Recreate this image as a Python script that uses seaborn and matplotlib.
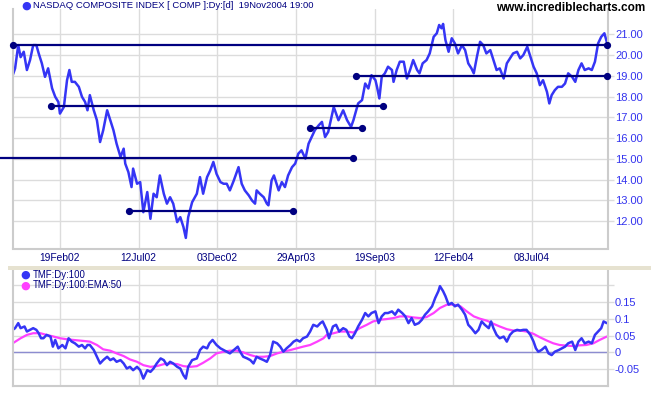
import matplotlib
matplotlib.use("Agg")
import matplotlib.pyplot as plt
from matplotlib.patches import Rectangle
import seaborn as sns

# ---------------- data (bar index = trading day from start) ----------------
price_bar = [0, 3, 7, 10, 14, 18, 22, 26, 30, 33, 37, 41, 45, 50, 54, 58, 60, 65, 69, 72,
             75, 79, 84, 88, 92, 95, 98, 103, 107, 111, 115, 120, 124, 128, 132, 137, 141, 143, 147, 151,
             153, 158, 162, 166, 171, 175, 179, 183, 187, 192, 196, 200, 204, 209, 213, 217, 220, 223, 228, 234,
             238, 242, 247, 251, 255, 259, 264, 268, 272, 276, 281, 287, 291, 295, 300, 304, 308, 310, 314, 319,
             323, 325, 329, 332, 338, 342, 346, 350, 355, 359, 363, 367, 372, 376, 380, 384, 389, 393, 397, 401,
             408, 414, 420, 425, 430, 433, 439, 444, 448, 452, 456, 461, 463, 466, 469, 473, 477, 482, 484, 488,
             492, 497, 501, 505, 509, 514, 517, 521, 526, 530, 535, 539, 542, 545, 547, 550, 554, 558, 562, 566,
             571, 575, 579, 583, 586, 590, 594, 598, 602, 607, 611, 615, 619, 624, 628, 632, 636, 641, 645, 649,
             654, 658, 662, 666, 670, 674, 679, 682, 685, 689, 693, 698, 702, 706, 711, 715, 719, 723, 727, 732,
             736, 740, 744, 748, 752, 755]
price_val = [19.03, 19.36, 20.48, 19.90, 20.16, 19.28, 19.76, 20.48, 20.48, 20.08, 19.60, 18.95, 19.36, 18.40, 17.99, 17.74, 17.18, 17.50, 18.79, 19.28,
             18.71, 18.71, 18.47, 17.99, 17.74, 17.34, 18.07, 17.34, 16.86, 15.81, 16.38, 17.34, 16.86, 16.38, 15.73, 15.09, 15.49, 14.77, 14.36, 13.64,
             14.53, 13.80, 13.88, 12.43, 13.40, 12.11, 13.32, 13.15, 14.20, 13.32, 12.84, 13.15, 12.84, 11.95, 12.19, 11.71, 11.19, 12.19, 12.91, 13.32,
             14.12, 13.32, 14.12, 14.44, 14.85, 14.28, 13.88, 13.80, 13.80, 13.48, 13.96, 14.60, 13.80, 13.48, 13.24, 13.00, 12.84, 13.48, 13.32, 13.15,
             12.84, 12.76, 13.96, 14.20, 13.48, 13.88, 13.64, 14.20, 14.60, 14.77, 15.25, 15.41, 15.01, 15.73, 16.05, 16.38, 16.62, 16.78, 16.05, 16.30,
             17.50, 16.86, 17.34, 16.86, 16.54, 16.86, 17.67, 17.83, 18.63, 18.39, 19.03, 18.79, 18.47, 17.91, 18.95, 19.12, 19.44, 19.28, 18.71, 19.28,
             19.68, 19.68, 18.87, 19.28, 19.76, 19.28, 19.12, 19.60, 19.76, 20.08, 20.88, 21.05, 21.45, 21.29, 21.50, 20.72, 20.16, 20.81, 20.56, 20.08,
             20.48, 20.24, 19.60, 19.36, 19.12, 19.92, 20.64, 20.48, 20.08, 20.24, 19.76, 19.28, 19.36, 18.87, 19.60, 19.84, 20.08, 20.16, 19.84, 20.00,
             20.40, 19.92, 19.44, 19.12, 18.55, 18.79, 18.23, 17.67, 18.07, 18.31, 18.47, 18.47, 18.63, 19.12, 18.95, 18.71, 19.28, 19.60, 19.28, 19.36,
             19.28, 19.68, 20.56, 20.88, 21.05, 20.64]

tmf_bar = [0, 3, 7, 10, 15, 18, 22, 26, 30, 33, 36, 39, 43, 48, 51, 54, 58, 63, 67, 71,
           75, 79, 84, 88, 92, 95, 98, 103, 107, 111, 115, 120, 124, 128, 132, 137, 141, 145, 149, 153,
           158, 162, 166, 171, 175, 179, 183, 188, 192, 196, 200, 204, 209, 213, 217, 220, 223, 228, 234, 238,
           242, 247, 250, 254, 259, 264, 268, 272, 276, 281, 286, 289, 293, 298, 302, 306, 310, 314, 319, 323,
           327, 331, 336, 340, 344, 348, 353, 357, 361, 365, 369, 374, 378, 382, 387, 391, 394, 399, 402, 407,
           411, 415, 420, 424, 428, 431, 435, 439, 444, 448, 452, 456, 461, 465, 469, 473, 477, 482, 486, 490,
           495, 499, 503, 507, 511, 516, 520, 524, 528, 533, 537, 541, 543, 547, 550, 554, 558, 562, 566, 571,
           575, 579, 583, 588, 592, 596, 600, 605, 608, 611, 615, 619, 624, 628, 632, 636, 641, 645, 649, 653,
           658, 662, 665, 668, 672, 677, 681, 685, 689, 694, 698, 702, 706, 711, 715, 719, 723, 727, 732, 736,
           740, 744, 748, 751, 755]
tmf_val = [0.067, 0.072, 0.087, 0.072, 0.077, 0.062, 0.067, 0.072, 0.067, 0.057, 0.042, 0.042, 0.052, 0.047, 0.017, 0.037, 0.012, 0.022, 0.012, 0.042,
           0.032, 0.027, 0.017, 0.022, 0.012, 0.022, 0.022, 0.007, -0.013, -0.033, -0.023, -0.013, -0.023, -0.018, -0.028, -0.023, -0.033, -0.048, -0.043, -0.053,
           -0.043, -0.053, -0.078, -0.053, -0.058, -0.048, -0.033, -0.018, -0.023, -0.038, -0.028, -0.033, -0.043, -0.048, -0.068, -0.078, -0.043, -0.023, -0.018, 0.007,
           0.017, 0.012, 0.027, 0.037, 0.022, 0.012, 0.007, 0.002, -0.003, 0.007, 0.017, 0.002, -0.013, -0.018, -0.023, -0.033, -0.013, -0.018, -0.023, -0.028,
           -0.008, 0.032, 0.027, 0.017, 0.002, 0.012, 0.022, 0.032, 0.037, 0.032, 0.042, 0.047, 0.062, 0.082, 0.077, 0.087, 0.092, 0.067, 0.042, 0.077,
           0.082, 0.062, 0.072, 0.067, 0.047, 0.042, 0.057, 0.077, 0.097, 0.117, 0.107, 0.117, 0.122, 0.087, 0.107, 0.117, 0.117, 0.122, 0.112, 0.127,
           0.117, 0.107, 0.087, 0.102, 0.082, 0.087, 0.097, 0.112, 0.122, 0.137, 0.162, 0.182, 0.197, 0.182, 0.167, 0.142, 0.147, 0.137, 0.142, 0.127,
           0.112, 0.082, 0.072, 0.057, 0.067, 0.092, 0.082, 0.072, 0.092, 0.072, 0.052, 0.042, 0.047, 0.032, 0.052, 0.062, 0.067, 0.065, 0.067, 0.067,
           0.052, 0.032, 0.012, 0.002, 0.007, 0.017, -0.003, -0.008, 0.002, 0.007, 0.012, 0.017, 0.027, 0.032, 0.007, 0.032, 0.042, 0.027, 0.032, 0.027,
           0.052, 0.062, 0.072, 0.092, 0.087]

ema_bar = [0, 10, 18, 26, 35, 43, 52, 60, 69, 77, 90, 98, 107, 115, 124, 132, 141, 149, 158, 166,
           175, 183, 192, 200, 209, 217, 226, 234, 242, 251, 259, 268, 276, 285, 293, 302, 310, 319, 327, 336,
           344, 353, 361, 369, 378, 387, 395, 399, 408, 416, 425, 433, 441, 450, 458, 467, 475, 484, 492, 501,
           509, 518, 526, 535, 543, 552, 560, 569, 577, 586, 594, 603, 611, 619, 628, 636, 645, 653, 662, 670,
           679, 687, 695, 704, 712, 721, 729, 738, 746, 755]
ema_val = [0.027, 0.042, 0.052, 0.057, 0.057, 0.052, 0.047, 0.042, 0.039, 0.037, 0.034, 0.032, 0.022, 0.009, 0.005, -0.003, -0.011, -0.021, -0.028, -0.038,
           -0.043, -0.041, -0.035, -0.033, -0.035, -0.041, -0.043, -0.041, -0.031, -0.018, -0.003, 0.002, 0.005, 0.005, 0.000, -0.008, -0.013, -0.013, -0.011, -0.003,
           0.002, 0.007, 0.012, 0.017, 0.022, 0.032, 0.042, 0.052, 0.057, 0.062, 0.062, 0.059, 0.072, 0.082, 0.092, 0.097, 0.099, 0.102, 0.107, 0.107,
           0.104, 0.102, 0.105, 0.117, 0.132, 0.142, 0.142, 0.137, 0.122, 0.107, 0.100, 0.094, 0.085, 0.077, 0.069, 0.065, 0.065, 0.062, 0.055, 0.045,
           0.035, 0.027, 0.022, 0.020, 0.019, 0.021, 0.022, 0.027, 0.037, 0.047]

# support / resistance lines
sr_level = [20.5, 17.55, 15.05, 12.5, 16.5, 19.0]
sr_start = [0, 48, -16, 148, 378, 436]
sr_end = [755, 471, 432, 356, 444, 755]
sr_start_dot = [True, True, False, True, True, True]

tick_bars = [60, 160, 260, 360, 460, 560, 660]
tick_labels = ["19Feb02", "12Jul02", "03Dec02", "29Apr03", "19Sep03", "12Feb04", "08Jul04"]
price_ticks = [12, 13, 14, 15, 16, 17, 18, 19, 20, 21]
tmf_ticks = [-0.05, 0.0, 0.05, 0.1, 0.15]
tmf_tick_labels = ["-0.05", "0", "0.05", "0.1", "0.15"]

title_text = "NASDAQ COMPOSITE INDEX [ COMP ]:Dy:[d]  19Nov2004 19:00"
site_text = "www.incrediblecharts.com"
legend_labels = ["TMF:Dy:100", "TMF:Dy:100:EMA:50"]

# ---------------- styling ----------------
sns.set_theme(style="white")
plt.rcParams["font.family"] = ["Liberation Sans", "DejaVu Sans"]

BLUE = "#3535F5"
NAVY = "#000080"
MAG = "#FF40FF"
GRID = "#DCDCDC"
SPINE = "#CCCCCC"
TICKC = "#3333EE"

W, H = 651, 395
fig = plt.figure(figsize=(W / 100, H / 100), dpi=100)
fig.patch.set_facecolor("white")

def fx(px):
    return px / W

def fy(py):
    return 1 - py / H

ax1 = fig.add_axes([fx(12.5), fy(248.5), fx(608) - fx(12.5), fy(9) - fy(248.5)])
ax2 = fig.add_axes([fx(12.5), fy(386), fx(608) - fx(12.5), fy(270) - fy(386)], sharex=ax1)

XMIN, XMAX = -0.3, 756.6

for ax in (ax1, ax2):
    ax.set_facecolor("white")
    ax.spines["top"].set_visible(False)
    for s in ("left", "right", "bottom"):
        ax.spines[s].set_color(SPINE)
        ax.spines[s].set_linewidth(1.5)
    ax.yaxis.tick_right()
    ax.tick_params(axis="y", which="both", direction="out", length=4, width=1,
                   color=GRID, labelsize=8, labelcolor=TICKC, pad=1)
    ax.tick_params(axis="x", length=0)
    ax.set_xticks(tick_bars)
    ax.grid(True, axis="both", color=GRID, linewidth=1)
    ax.set_axisbelow(True)
    ax.set_xlabel("")
    ax.set_ylabel("")

# ---------------- top panel ----------------
sns.lineplot(x=price_bar, y=price_val, ax=ax1, color=BLUE, linewidth=1.8,
             estimator=None, sort=False)
ax1.set_xlim(XMIN, XMAX)
ax1.set_ylim(10.68, 22.22)
ax1.set_yticks(price_ticks)
ax1.set_yticklabels([f"{v:.2f}" for v in price_ticks])
ax1.set_xticklabels(tick_labels)
ax1.tick_params(axis="x", labelsize=7.4, labelcolor=NAVY, pad=3)

for lvl, s, e, sd in zip(sr_level, sr_start, sr_end, sr_start_dot):
    ax1.plot([s, e], [lvl, lvl], color=NAVY, linewidth=1.6, clip_on=False,
             solid_capstyle="butt", zorder=4)
    ax1.plot([e], [lvl], "o", color=NAVY, markersize=4.2, clip_on=False, zorder=5)
    if sd:
        ax1.plot([s], [lvl], "o", color=NAVY, markersize=4.2, clip_on=False, zorder=5)

# ---------------- bottom panel ----------------
sns.lineplot(x=ema_bar, y=ema_val, ax=ax2, color=MAG, linewidth=1.6,
             estimator=None, sort=False)
sns.lineplot(x=tmf_bar, y=tmf_val, ax=ax2, color=BLUE, linewidth=1.8,
             estimator=None, sort=False)
ax2.set_xlim(XMIN, XMAX)
ax2.set_ylim(-0.1, 0.245)
ax2.set_yticks(tmf_ticks + [0.2])
ax2.set_yticklabels(tmf_tick_labels + [""])
ax2.axhline(0, color="#8C8CD0", linewidth=1, zorder=1.5)
plt.setp(ax2.get_xticklabels(), visible=False)

# legend-like labels
for i, (lab, col) in enumerate(zip(legend_labels, [BLUE, MAG])):
    yy = 274.5 + i * 11
    fig.text(fx(20.5), fy(yy), "\u25CF", color=col, fontsize=8, va="center",
             ha="left", family=["DejaVu Sans"])
    fig.text(fx(33), fy(yy), lab, color=NAVY, fontsize=6.9, va="center", ha="left")

# separator strip between panels
fig.patches.append(Rectangle((fx(8), fy(269.5)), 1, fy(266) - fy(269.5),
                             transform=fig.transFigure, facecolor="#E6E2D0",
                             edgecolor="none", zorder=0))

# title and site
fig.text(fx(21.5), fy(6), "\u25CF", color=BLUE, fontsize=8, va="center", ha="left",
         family=["DejaVu Sans"])
fig.text(fx(33), fy(6), title_text, color=NAVY, fontsize=6.8, va="center", ha="left")
fig.text(fx(645), fy(8), site_text, color="black", fontsize=8.5, fontweight="bold",
         va="center", ha="right")

fig.savefig("out.png", dpi=100)
